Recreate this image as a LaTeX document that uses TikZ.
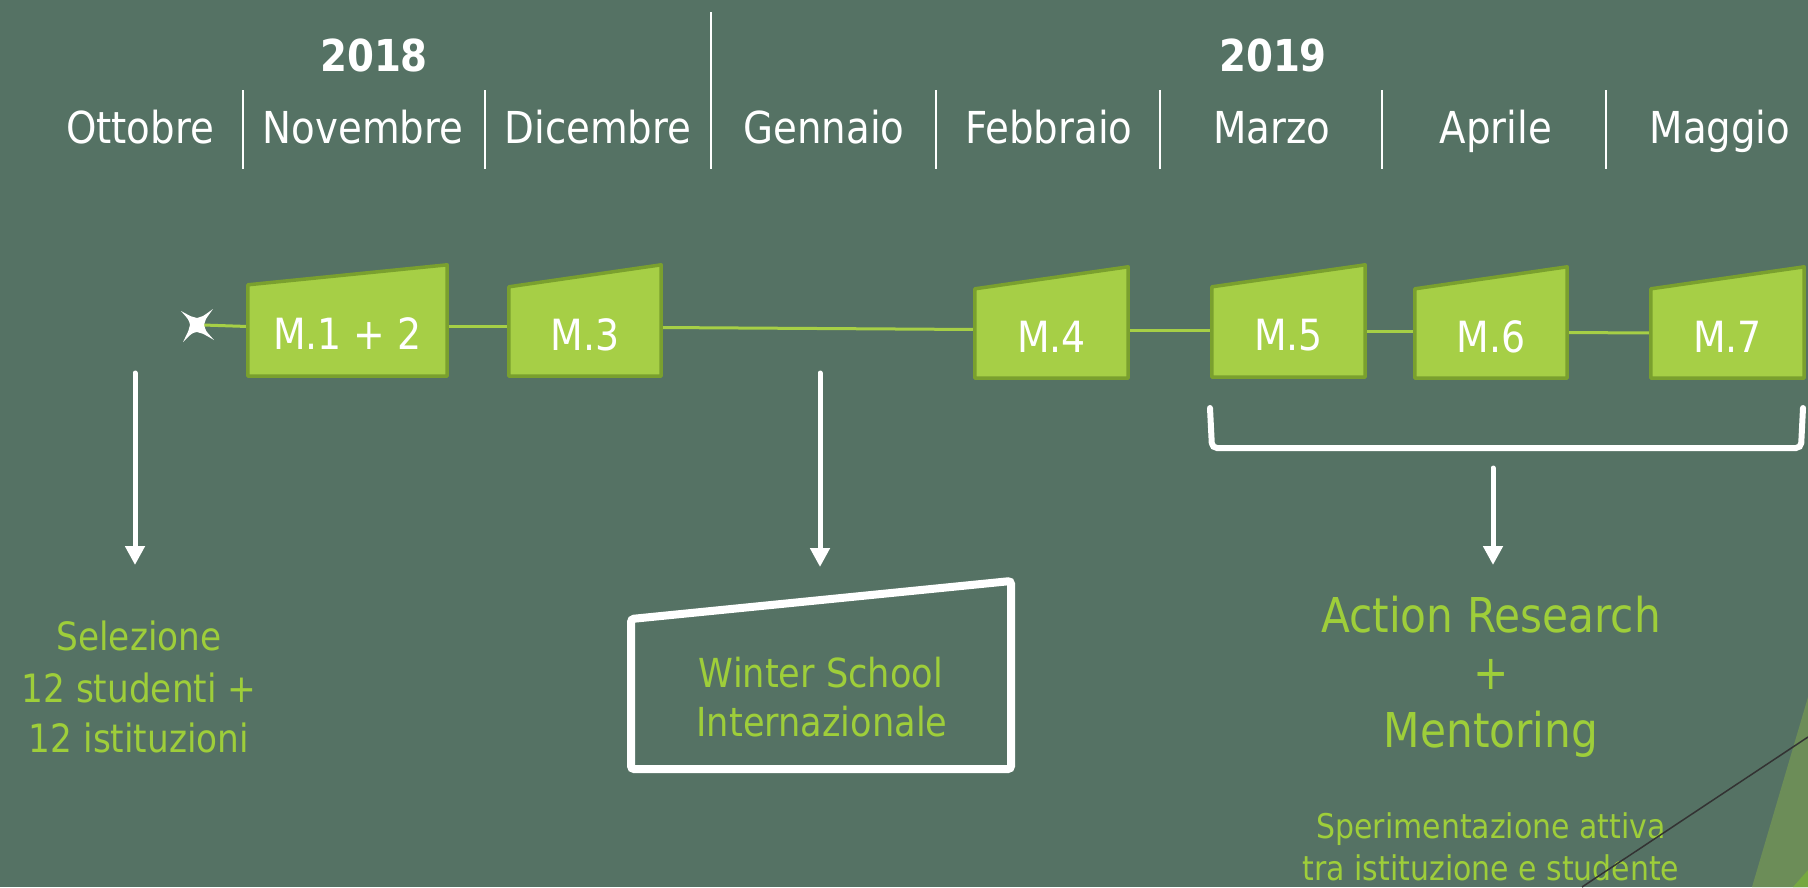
\documentclass[tikz,border=0pt]{standalone}
\usepackage{fontspec}
\setmainfont{DejaVu Sans}[FakeStretch=0.88]
\usetikzlibrary{arrows.meta}
\definecolor{bgc}{RGB}{85,114,100}
\definecolor{boxfill}{RGB}{166,207,70}
\definecolor{boxedge}{RGB}{122,160,46}
\definecolor{linegreen}{RGB}{166,207,70}
\definecolor{textgreen}{RGB}{158,206,58}
\definecolor{tri1}{RGB}{108,141,88}
\definecolor{tri2}{RGB}{118,168,64}
\pgfdeclarelayer{under}
\pgfsetlayers{under,main}
\begin{document}
\begin{tikzpicture}[x=1pt,y=-1pt,
  year/.style={font=\fontsize{44}{50}\selectfont\bfseries, text=white, anchor=base, inner sep=0},
  month/.style={font=\fontsize{44}{50}\selectfont, text=white, anchor=base, inner sep=0},
  sep/.style={white, line width=2pt},
  mbox/.style={draw=none, inner sep=0, text=white, font=\fontsize{43}{50}\selectfont, text height=37pt, text depth=0pt},
  boxshape/.style={fill=boxfill, draw=boxedge, line width=3.5pt, line join=round},
  conn/.style={draw=linegreen, line width=3pt},
  arr/.style={white, line width=5pt, line cap=round, -{Triangle[length=19pt,width=19pt]}},
  lab/.style={text=textgreen, anchor=base, inner sep=0},
  biglab/.style={lab, font=\fontsize{48}{56}\selectfont},
  midlab/.style={lab, font=\fontsize{40}{48}\selectfont},
  sellab/.style={lab, font=\fontsize{39}{46}\selectfont},
  smalllab/.style={lab, font=\fontsize{34}{40}\selectfont}
]
\begin{pgfonlayer}{under}
\fill[bgc] (0,0) rectangle (1808,887);
\end{pgfonlayer}
\useasboundingbox (0,0) rectangle (1808,887);

% header
\node[year] (y18) at (374,71) {2018};
\node[year] (y19) at (1273,71) {2019};
\node[month] (oct) at (140,143) {Ottobre};
\node[month] (nov) at (363,143) {Novembre};
\node[month] (dec) at (598,143) {Dicembre};
\node[month] (jan) at (824,143) {Gennaio};
\node[month] (feb) at (1049,143) {Febbraio};
\node[month] (mar) at (1272,143) {Marzo};
\node[month] (apr) at (1496,143) {Aprile};
\node[month] (may) at (1720,143) {Maggio};
\foreach \x in {243,485,936,1160,1382,1606}
  \draw[sep] (\x,90) -- (\x,169);
\draw[sep] (711,12) -- (711,169);

% timeline boxes
\node[mbox, minimum width=199pt, minimum height=91pt] (m1) at (347.5,330.5) {M.1 + 2};
\node[mbox, minimum width=152pt, minimum height=89pt] (m3) at (585,331.5) {M.3};
\node[mbox, minimum width=153pt, minimum height=89pt] (m4) at (1051.5,333.5) {M.4};
\node[mbox, minimum width=153pt, minimum height=90pt] (m5) at (1288.5,332) {M.5};
\node[mbox, minimum width=152pt, minimum height=89pt] (m6) at (1491,333.5) {M.6};
\node[mbox, minimum width=153pt, minimum height=89pt] (m7) at (1727.5,333.5) {M.7};
\node[inner sep=0, minimum size=12pt] (start) at (197,325) {};

\begin{pgfonlayer}{under}
\draw[conn] (start.east) -- ([yshift=4pt]m1.west);
\draw[conn] ([yshift=4pt]m1.east) -- ([yshift=5pt]m3.west);
\draw[conn] ([yshift=4pt]m3.east) -- ([yshift=4pt]m4.west);
\draw[conn] ([yshift=3pt]m4.east) -- ([yshift=1.5pt]m5.west);
\draw[conn] ([yshift=0.5pt]m5.east) -- ([yshift=2pt]m6.west);
\draw[conn] ([yshift=1pt]m6.east) -- ([yshift=0.5pt]m7.west);
\foreach \n/\s in {m1/20,m3/22,m4/22,m5/22,m6/22,m7/22}
  \draw[boxshape] (\n.south west) -- (\n.south east) -- ([yshift=\s pt]\n.north east) -- (\n.north west) -- cycle;
\end{pgfonlayer}

% start star (four-pointed)
\fill[white, shift={(start)}]
  (-16,-14) .. controls (-5,-8) .. (0,-7)
  .. controls (5,-8) .. (16,-16)
  .. controls (8,-5) .. (7,0)
  .. controls (8,5) .. (17,15)
  .. controls (5,8) .. (0,7)
  .. controls (-5,8) .. (-14,17)
  .. controls (-8,5) .. (-7,0)
  .. controls (-8,-5) .. (-16,-14) -- cycle;

% bracket
\draw[white, line width=6pt, line cap=round, rounded corners=5pt] (1210,408) -- (1212,448) -- (1801,448) -- (1803,408);

% arrows
\coordinate (a1s) at (135,373); \coordinate (a1e) at (135,565);
\coordinate (a2s) at (820,373); \coordinate (a2e) at (820,567);
\coordinate (a3s) at (1493,468); \coordinate (a3e) at (1493,565);
\draw[arr] (a1s) -- (a1e);
\draw[arr] (a2s) -- (a2e);
\draw[arr] (a3s) -- (a3e);

% Winter school box
\draw[white, line width=8pt, rounded corners=3pt] (631,619) -- (1011,581) -- (1011,769) -- (631,769) -- cycle;
\node[midlab] (ws1) at (821,687) {Winter School};
\node[midlab] (ws2) at (822,736) {Internazionale};

% Selezione
\node[sellab] (sel1) at (139,650) {Selezione};
\node[sellab] (sel2) at (139,702) {12 studenti +};
\node[sellab] (sel3) at (139,752) {12 istituzioni};

% Action research
\node[biglab] (ar1) at (1491,632) {Action Research};
\node[biglab] (ar2) at (1491,689) {+};
\node[biglab] (ar3) at (1491,747) {Mentoring};
\node[smalllab] (sp1) at (1491,838) {Sperimentazione attiva};
\node[smalllab] (sp2) at (1491,880) {tra istituzione e studente};

% decoration bottom right
\fill[tri1] (1752,887) -- (1808,697) -- (1808,887) -- cycle;
\fill[tri2] (1793,887) -- (1808,870) -- (1808,887) -- cycle;
\draw[black!80, line width=1.5pt] (1582,887) -- (1808,737);
\end{tikzpicture}
\end{document}
